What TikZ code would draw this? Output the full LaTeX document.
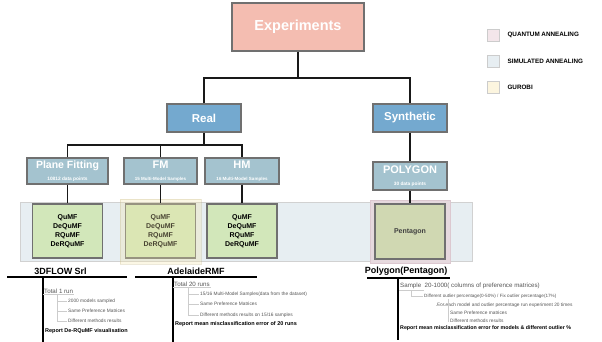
\documentclass[tikz,border=0pt]{standalone}
\usepackage{fontspec}
\setmainfont{Liberation Sans}
\usetikzlibrary{positioning}
\newcommand{\fsz}[1]{\fontsize{#1}{#1}\selectfont}
\definecolor{expfill}{HTML}{F4BDB1}
\definecolor{catfill}{HTML}{74A9CF}
\definecolor{setfill}{HTML}{A4C3CF}
\definecolor{resfill}{HTML}{D2E7BA}
\definecolor{pentfill}{HTML}{D0D8B2}
\definecolor{bandfill}{HTML}{E7EEF2}
\definecolor{gurfill}{HTML}{F3E4A8}
\definecolor{qafill}{HTML}{F3E6EA}
\definecolor{qaframe}{HTML}{DCC8D0}
\definecolor{safill}{HTML}{E7EEF2}
\definecolor{gufill}{HTML}{FCF5DF}
\definecolor{boxline}{HTML}{707070}
\definecolor{treegray}{HTML}{CCCCCC}
\definecolor{treetext}{HTML}{555555}
\begin{document}
\begin{tikzpicture}[x=1pt,y=-1pt,
  box/.style={draw=boxline, line width=1.3pt, inner sep=0pt, text=white, align=center},
  resbox/.style={draw=boxline, line width=1.3pt, fill=resfill, inner sep=0pt,
    minimum width=70pt, minimum height=54pt, align=center, font=\bfseries\fontsize{7}{9}\selectfont},
  link/.style={line width=1.2pt, black!90},
  bar/.style={line width=1.6pt, black},
  tree/.style={line width=0.9pt, treegray},
  head/.style={font=\bfseries\fsz{9}, inner sep=1pt},
  lvl/.style={font=\fsz{6.2}, text=treetext, anchor=west, inner sep=1pt},
  sub/.style={font=\fsz{4.8}, text=treetext, anchor=west, inner sep=1pt},
  rep/.style={font=\bfseries\fsz{5.5}, anchor=west, inner sep=1pt},
  legsq/.style={draw=black!20, line width=0.7pt, minimum size=12pt, inner sep=0pt},
  legtxt/.style={font=\bfseries\fsz{6.3}, anchor=west, inner sep=0pt}]

\useasboundingbox (0,0) rectangle (602,342);

% hierarchy
\node[box, fill=expfill, minimum width=132pt, minimum height=48pt, font=\bfseries\fsz{14.5}] (exp) at (298,27) {Experiments};
\node[box, fill=catfill, minimum width=74pt, minimum height=28pt, font=\bfseries\fsz{11.5}] (real) at (204,118) {Real};
\node[box, fill=catfill, minimum width=74pt, minimum height=28pt, font=\bfseries\fsz{11.5}] (syn) at (410,118) {Synthetic};

\node[box, fill=setfill, minimum width=81pt, minimum height=26pt] (plane) at (67.5,171)
  {{\bfseries\fsz{10.5}Plane Fitting}\\[0.5pt]{\bfseries\fsz{4.8}10812 data points}};
\node[box, fill=setfill, minimum width=73pt, minimum height=26pt] (fm) at (160.5,171)
  {{\bfseries\fsz{11}FM}\\[0.5pt]{\bfseries\fsz{4.5}15 Multi-Model Samples}};
\node[box, fill=setfill, minimum width=74pt, minimum height=26pt] (hm) at (242,171)
  {{\bfseries\fsz{11}HM}\\[0.5pt]{\bfseries\fsz{4.5}16 Multi-Model Samples}};
\node[box, fill=setfill, minimum width=74pt, minimum height=28pt] (poly) at (410,176)
  {{\bfseries\fsz{11}POLYGON}\\[0.5pt]{\bfseries\fsz{4.8}30 data points}};

% simulated annealing band
\draw[draw=black!18, fill=bandfill, line width=0.7pt] (20,202) rectangle (472,261);
\draw[draw=qaframe, fill=qaframe!70, line width=0.8pt] (370,200) rectangle (450,263);

\node[resbox] (planeres) at (67.5,231) {QuMF\\DeQuMF\\RQuMF\\DeRQuMF};
\node[resbox] (fmres) at (160.5,231) {QuMF\\DeQuMF\\RQuMF\\DeRQuMF};
\node[resbox] (hmres) at (242,231) {QuMF\\DeQuMF\\RQuMF\\DeRQuMF};
\node[resbox, fill=pentfill, minimum height=55pt, text=black!75] (pent) at (410,231.5) {Pentagon};

% gurobi overlay
\draw[draw=gurfill!80!black, fill=gurfill, opacity=0.3, line width=0.8pt] (120,199) rectangle (201,264);

% connectors
\coordinate (j1) at (298,78);
\coordinate (j2) at (204,145);
\draw[link] (exp.south) -- (j1);
\draw[link] (real.north) |- (j1) -| (syn.north);
\draw[link] (real.south) -- (j2);
\draw[link] (plane.north) |- (j2) -| (hm.north);
\draw[link] (fm.north) -- (fm.north |- j2);
\draw[link] (syn.south) -- (poly.north);
\draw[link] (plane.south) -- (planeres.north);
\draw[link] (fm.south) -- (fmres.north);
\draw[link] (hm.south) -- (hmres.north);
\draw[link] (poly.south) -- (pent.north);

% legend
\node[legsq, fill=qafill] (lq) at (493,35) {};
\node[legtxt, right=8pt of lq] (lqt) {QUANTUM ANNEALING};
\node[legsq, fill=safill] (ls) at (493,61.5) {};
\node[legtxt, right=8pt of ls] (lst) {SIMULATED ANNEALING};
\node[legsq, fill=gufill] (lg) at (493,87.5) {};
\node[legtxt, right=8pt of lg] (lgt) {GUROBI};

% 3DFLOW Srl
\node[head] (h1) at (60.5,271) {3DFLOW Srl};
\coordinate (h1l) at (7,277);
\coordinate (h1r) at (127,277);
\coordinate (v1t) at (43,277);
\coordinate (v1b) at (43,342);
\draw[bar] (h1l) -- (h1r) (v1t) -- (v1b);
\node[lvl] (t1) at (43,291) {Total 1 run};
\node[sub] (t1a) at (67,301) {2000 models sampled};
\node[sub] (t1b) at (67,311) {Same Preference Matrices};
\node[sub] (t1c) at (67,321) {Different methods results};
\node[rep] (t1r) at (44,331) {Report De-RQuMF visualisation};
\draw[tree] (t1.south west) -- (t1.south east);
\draw[tree] ([xshift=14pt]t1.south west) |- (t1a.west);
\draw[tree] ([xshift=14pt]t1.south west) |- (t1b.west);
\draw[tree] ([xshift=14pt]t1.south west) |- (t1c.west);

% AdelaideRMF
\node[head] (h2) at (196,271) {AdelaideRMF};
\coordinate (h2l) at (135,277);
\coordinate (h2r) at (257,277);
\coordinate (v2t) at (173,277);
\coordinate (v2b) at (173,342);
\draw[bar] (h2l) -- (h2r) (v2t) -- (v2b);
\node[lvl] (t2) at (173,284) {Total 20 runs};
\node[sub] (t2a) at (199,294) {15/16 Multi-Model Samples(data from the dataset)};
\node[sub] (t2b) at (199,304) {Same Preference Matrices};
\node[sub] (t2c) at (199,315) {Different methods results on 15/16 samples};
\node[rep] (t2r) at (174,324) {Report mean misclassification error of 20 runs};
\draw[tree] (t2.south west) -- (t2.south east);
\draw[tree] ([xshift=15pt]t2.south west) |- (t2a.west);
\draw[tree] ([xshift=15pt]t2.south west) |- (t2b.west);
\draw[tree] ([xshift=15pt]t2.south west) |- (t2c.west);

% Polygon(Pentagon)
\node[head] (h3) at (406,271) {Polygon(Pentagon)};
\coordinate (h3l) at (367,278);
\coordinate (h3r) at (450,278);
\coordinate (v3t) at (398,278);
\coordinate (v3b) at (398,340);
\draw[bar] (h3l) -- (h3r) (v3t) -- (v3b);
\node[lvl] (t3) at (399,286) {Sample\ \ 20-1000( columns of preference matrices)};
\node[sub, font=\fsz{4.6}] (t3a) at (423,296) {Different outlier percentage(0-50\%) / Fix outlier percentage(17\%)};
\node[sub] (t3b) at (436,305) {For each model and outlier percentage run experiment 20 times};
\node[sub] (t3c) at (449,313) {Same Preference matrices};
\node[sub] (t3d) at (449,321) {Different methods results};
\node[rep, font=\bfseries\fsz{5.3}] (t3r) at (399,328.5) {Report mean misclassification error for models \& different outlier \%};
\draw[tree] (t3.south west) -- ++(25,0);
\draw[tree] ([xshift=12pt]t3.south west) |- (t3a.west);
\draw[tree] ([xshift=25pt]t3a.south west) |- (t3b.west);
\draw[tree] ([xshift=25pt]t3a.south west) |- (t3c.west);
\draw[tree] ([xshift=25pt]t3a.south west) |- (t3d.west);
\end{tikzpicture}
\end{document}
